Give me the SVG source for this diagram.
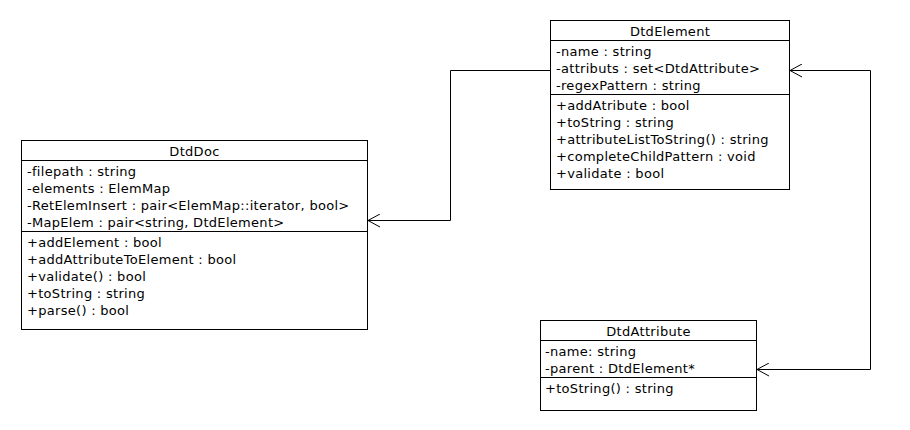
<svg xmlns="http://www.w3.org/2000/svg" width="910" height="430" viewBox="0 0 910 430">
<style>
  .box { fill: #ffffff; stroke: #000000; stroke-width: 1; }
  .sep { stroke: #000000; stroke-width: 1; }
  text { font-family: "DejaVu Sans", "Liberation Sans", sans-serif; font-size: 13px; letter-spacing: 0.3px; fill: #000000; }
  .title { text-anchor: middle; }
  .conn { fill: none; stroke: #000000; stroke-width: 1; }
</style>
<defs>
  <marker id="open" viewBox="0 0 14 14" refX="13" refY="7" markerWidth="14" markerHeight="14" markerUnits="userSpaceOnUse" orient="auto-start-reverse">
    <path d="M1,0.5 L13,7 L1,13.5" fill="none" stroke="#000000" stroke-width="1"/>
  </marker>
</defs>
<rect width="910" height="430" fill="#ffffff"/>
<g id="DtdElement">
  <rect class="box" x="550.5" y="20.5" width="239" height="169"/>
  <line class="sep" x1="550.5" y1="40.5" x2="789.5" y2="40.5"/>
  <line class="sep" x1="550.5" y1="94.5" x2="789.5" y2="94.5"/>
  <text class="title" x="670" y="36">DtdElement</text>
  <text x="556" y="56">-name : string</text>
  <text x="556" y="73">-attributs : set&lt;DtdAttribute&gt;</text>
  <text x="556" y="90">-regexPattern : string</text>
  <text x="556" y="110">+addAtribute : bool</text>
  <text x="556" y="127">+toString : string</text>
  <text x="556" y="144">+attributeListToString() : string</text>
  <text x="556" y="161">+completeChildPattern : void</text>
  <text x="556" y="178">+validate : bool</text>
</g>
<g id="DtdDoc">
  <rect class="box" x="21.5" y="140.5" width="346" height="189"/>
  <line class="sep" x1="21.5" y1="160.5" x2="367.5" y2="160.5"/>
  <line class="sep" x1="21.5" y1="231.5" x2="367.5" y2="231.5"/>
  <text class="title" x="194.5" y="156">DtdDoc</text>
  <text x="27" y="176">-filepath : string</text>
  <text x="27" y="193">-elements : ElemMap</text>
  <text x="27" y="210">-RetElemInsert : pair&lt;ElemMap::iterator, bool&gt;</text>
  <text x="27" y="227">-MapElem : pair&lt;string, DtdElement&gt;</text>
  <text x="27" y="247">+addElement : bool</text>
  <text x="27" y="264">+addAttributeToElement : bool</text>
  <text x="27" y="281">+validate() : bool</text>
  <text x="27" y="298">+toString : string</text>
  <text x="27" y="315">+parse() : bool</text>
</g>
<g id="DtdAttribute">
  <rect class="box" x="540.5" y="320.5" width="216" height="90"/>
  <line class="sep" x1="540.5" y1="340.5" x2="756.5" y2="340.5"/>
  <line class="sep" x1="540.5" y1="377.5" x2="756.5" y2="377.5"/>
  <text class="title" x="648.5" y="336">DtdAttribute</text>
  <text x="545" y="356">-name: string</text>
  <text x="545" y="373">-parent : DtdElement*</text>
  <text x="545" y="393">+toString() : string</text>
</g>
<g id="connectors">
  <path class="conn" d="M550.5,70.5 H450.5 V220.5 H368" marker-end="url(#open)"/>
  <path class="conn" d="M790,70.5 H870.5 V369.5 H757" marker-start="url(#open)" marker-end="url(#open)"/>
</g>
</svg>
